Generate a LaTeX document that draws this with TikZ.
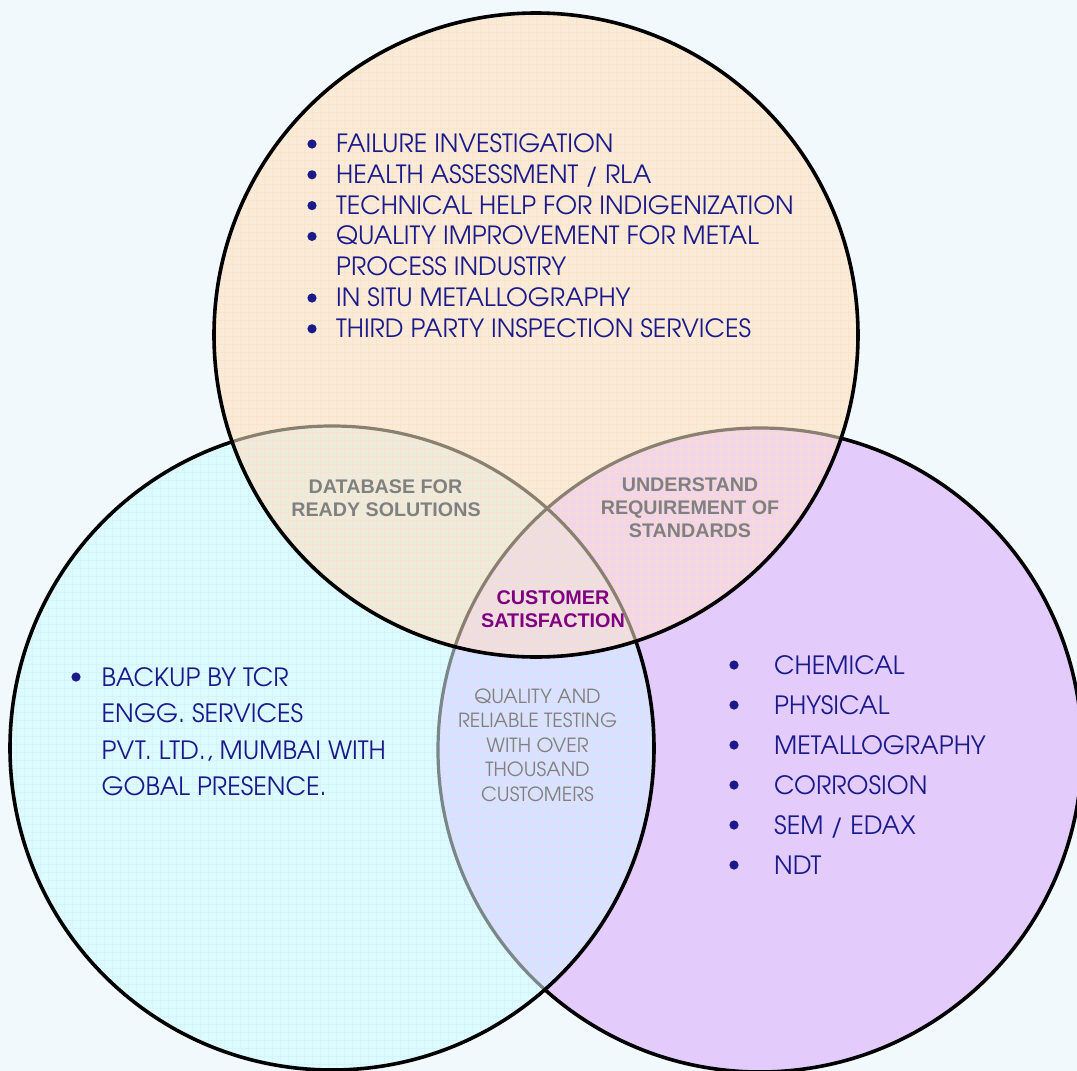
\documentclass[tikz,border=0pt]{standalone}
\usepackage{fontspec}
\newfontfamily\arialf{Liberation Sans}
\IfFontExistsTF{TeX Gyre Adventor}{\newfontfamily\cgf{TeX Gyre Adventor}}{\newfontfamily\cgf{Poppins}}
\definecolor{bgc}{HTML}{F1F9FC}
\definecolor{topfill}{HTML}{FAEAD8}
\definecolor{leftfill}{HTML}{DDFAFE}
\definecolor{rightfill}{HTML}{E3CCFC}
\definecolor{lrfill}{HTML}{DCDFFD}
\definecolor{tlfill}{HTML}{EFEBDC}
\definecolor{trfill}{HTML}{F2D5E6}
\definecolor{tlrfill}{HTML}{EEDEE3}
\definecolor{navyc}{HTML}{1A1A8A}
\definecolor{greyc}{HTML}{808080}
\definecolor{purplec}{HTML}{800080}
\definecolor{fadetop}{HTML}{8A8070}
\definecolor{fadeleft}{HTML}{7A8789}
\tikzset{
  edge/.style={draw=black, line width=3.6pt},
  fadeedgeT/.style={draw=fadetop, line width=3.2pt},
  fadeedgeL/.style={draw=fadeleft, line width=3.2pt},
  topgrid/.style={draw=orange!25, line width=0.6pt, opacity=0.5},
  leftgrid/.style={draw=cyan!20, line width=0.6pt, opacity=0.5},
  toptxt/.style={font=\cgf\fontsize{25.1}{28}\selectfont, text=navyc, anchor=base west, inner sep=0pt},
  righttxt/.style={font=\cgf\fontsize{25.2}{28}\selectfont, text=navyc, anchor=base west, inner sep=0pt},
  lefttxt/.style={font=\cgf\fontsize{25.2}{28}\selectfont, text=navyc, anchor=base west, inner sep=0pt},
  greybold/.style={font=\arialf\bfseries\fontsize{19.7}{23}\selectfont, text=greyc, anchor=base, inner sep=0pt},
  purplebold/.style={font=\arialf\bfseries\fontsize{19.8}{23}\selectfont, text=purplec, anchor=base, inner sep=0pt},
  greylight/.style={font=\cgf\fontsize{19.5}{23}\selectfont, text=greyc, anchor=base, inner sep=0pt},
  bulletdot/.style={fill=navyc}
}
\begin{document}
\begin{tikzpicture}[x=1pt,y=-1pt]
\useasboundingbox (0,0) rectangle (1077,1071);
\fill[bgc] (0,0) rectangle (1077,1071);
\coordinate (T) at (536,335);
\coordinate (L) at (332,748);
\coordinate (R) at (760,750);
\def\circT{(T) circle[radius=322]}
\def\circL{(L) circle[radius=322]}
\def\circR{(R) circle[radius=322]}
% right circle
\fill[rightfill] \circR;
\draw[edge] \circR;
% left circle
\fill[leftfill] \circL;
\begin{scope}
  \clip \circL;
  \fill[lrfill] \circR;
  \draw[leftgrid, step=8pt] (0,0) grid (1077,1071);
  \draw[fadeedgeL] \circR;
\end{scope}
\draw[edge] \circL;
% top circle
\fill[topfill] \circT;
\begin{scope}
  \clip \circT;
  \fill[tlfill] \circL;
  \fill[trfill] \circR;
  \begin{scope}
    \clip \circL;
    \fill[tlrfill] \circR;
  \end{scope}
  \draw[topgrid, step=8pt] (0,0) grid (1077,1071);
  \draw[fadeedgeT] \circL;
  \draw[fadeedgeT] \circR;
\end{scope}
\draw[edge] \circT;
% top list
\node[toptxt] (t1) at (336,152.5) {FAILURE INVESTIGATION};
\node[toptxt] (t2) at (336,183.3) {HEALTH ASSESSMENT / RLA};
\node[toptxt] (t3) at (336,214.1) {TECHNICAL HELP FOR INDIGENIZATION};
\node[toptxt] (t4) at (336,244.9) {QUALITY IMPROVEMENT FOR METAL};
\node[toptxt] (t4b) at (336,275.7) {PROCESS INDUSTRY};
\node[toptxt] (t5) at (336,306.5) {IN SITU METALLOGRAPHY};
\node[toptxt] (t6) at (336,337.3) {THIRD PARTY INSPECTION SERVICES};
\foreach \yy in {152.5,183.3,214.1,244.9,306.5,337.3}
  \fill[bulletdot] (312,\yy-8.5) circle[radius=4.6];
% right list
\node[righttxt] (r1) at (774,674) {CHEMICAL};
\node[righttxt] (r2) at (774,714) {PHYSICAL};
\node[righttxt] (r3) at (774,754) {METALLOGRAPHY};
\node[righttxt] (r4) at (774,794) {CORROSION};
\node[righttxt] (r5) at (774,834) {SEM / EDAX};
\node[righttxt] (r6) at (774,874) {NDT};
\foreach \yy in {674,714,754,794,834,874}
  \fill[bulletdot] (734,\yy-9) circle[radius=4.6];
% left list
\node[lefttxt] (l1) at (101.5,686) {BACKUP BY TCR};
\node[lefttxt] (l2) at (101.5,722.5) {ENGG. SERVICES};
\node[lefttxt] (l3) at (101.5,759) {PVT. LTD., MUMBAI WITH};
\node[lefttxt] (l4) at (101.5,795.5) {GOBAL PRESENCE.};
\fill[bulletdot] (76,677) circle[radius=4.6];
% overlap labels
\node[greybold] (db1) at (385.5,493) {DATABASE FOR};
\node[greybold] (db2) at (386,516) {READY SOLUTIONS};
\node[greybold] (u1) at (690,491) {UNDERSTAND};
\node[greybold] (u2) at (690,514) {REQUIREMENT OF};
\node[greybold] (u3) at (690,537) {STANDARDS};
\node[purplebold] (cs1) at (553,604) {CUSTOMER};
\node[purplebold] (cs2) at (553,627) {SATISFACTION};
\node[greylight] (q1) at (537.5,703) {QUALITY AND};
\node[greylight] (q2) at (537.5,727.6) {RELIABLE TESTING};
\node[greylight] (q3) at (537.5,752.2) {WITH OVER};
\node[greylight] (q4) at (537.5,776.8) {THOUSAND};
\node[greylight] (q5) at (537.5,801.4) {CUSTOMERS};
\end{tikzpicture}
\end{document}
